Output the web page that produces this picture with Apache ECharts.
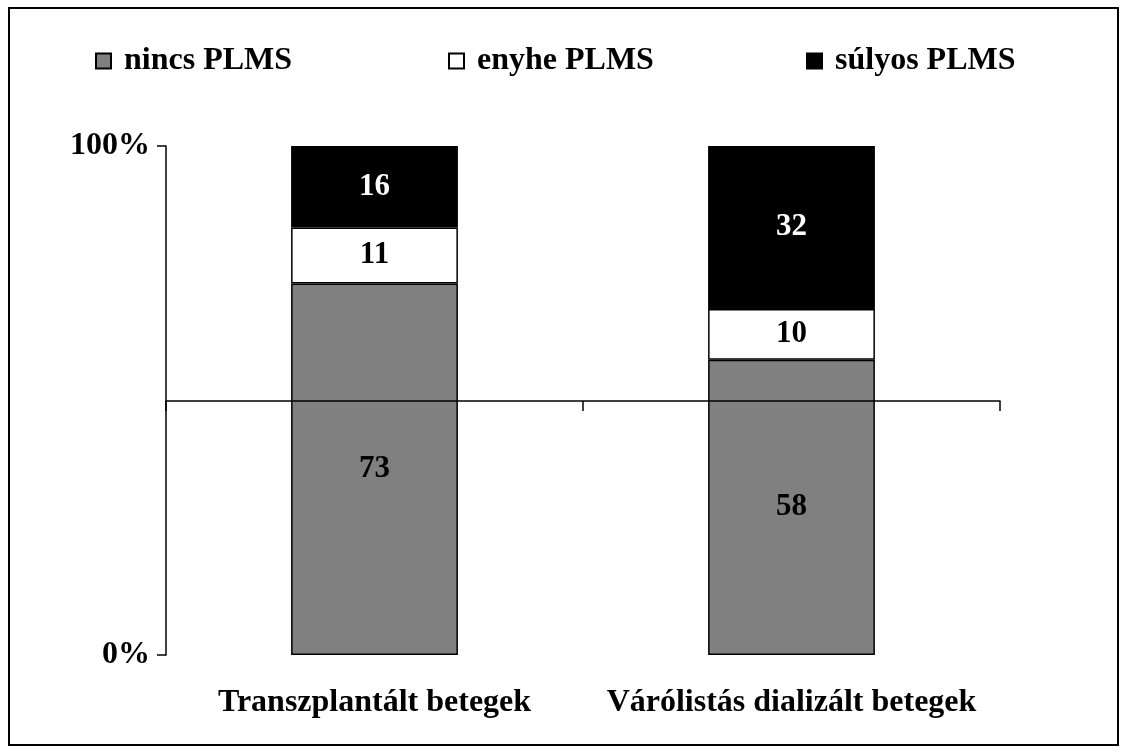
<!DOCTYPE html>
<html>
<head>
<meta charset="utf-8">
<script src="https://cdn.jsdelivr.net/npm/echarts@6/dist/echarts.min.js"></script>
<style>
html,body{margin:0;padding:0;background:#fff;}
#chart{width:1128px;height:754px;}
</style>
</head>
<body>
<div id="chart"></div>
<script>
const categories = ['Transzplantált betegek', 'Várólistás dializált betegek'];
const seriesNames = ['nincs PLMS', 'enyhe PLMS', 'súlyos PLMS'];
const nincs = [73, 58];
const enyhe = [11, 10];
const sulyos = [16, 32];
const yTicks = [0, 100];

const FONT = '"Liberation Serif", "Times New Roman", serif';
const chart = echarts.init(document.getElementById('chart'), null, {renderer: 'canvas'});

function mkSeries(name, data, color, labelColor) {
  return {
    name: name, type: 'bar', stack: 'total', data: data,
    xAxisIndex: 0, yAxisIndex: 0,
    barWidth: '40%',
    itemStyle: {color: color, borderColor: '#000', borderWidth: 1.5},
    label: {show: true, position: 'inside', color: labelColor,
      fontFamily: FONT, fontWeight: 'bold', fontSize: 31},
    emphasis: {disabled: true}
  };
}

function mkLegend(name, left) {
  return {
    data: [name], left: left, top: 40, icon: 'rect',
    itemWidth: 15, itemHeight: 15,
    textStyle: {fontFamily: FONT, fontWeight: 'bold', fontSize: 32, color: '#000', padding: [0, 0, 0, 8]},
    selectedMode: false
  };
}

const option = {
  backgroundColor: '#fff',
  animation: false,
  graphic: [{
    type: 'rect', shape: {x: 9, y: 8, width: 1109, height: 737},
    style: {fill: 'none', stroke: '#000', lineWidth: 2}, silent: true
  }],
  legend: [
    mkLegend(seriesNames[0], 90),
    mkLegend(seriesNames[1], 443),
    mkLegend(seriesNames[2], 801)
  ],
  grid: [
    {left: 166, right: 128, top: 146, bottom: 99},
    {left: 166, right: 128, top: 146, bottom: 353}
  ],
  xAxis: [
    {
      type: 'category', gridIndex: 0, data: categories,
      axisLine: {show: false}, axisTick: {show: false},
      axisLabel: {interval: 0, hideOverlap: false, margin: 32, color: '#000', fontFamily: FONT, fontWeight: 'bold', fontSize: 32}
    },
    {
      type: 'category', gridIndex: 1, data: categories, z: 5,
      axisLine: {show: true, lineStyle: {color: '#000', width: 1.5}},
      axisTick: {show: true, length: 10, lineStyle: {color: '#000', width: 1.5}},
      axisLabel: {show: false}
    }
  ],
  yAxis: [
    {
      type: 'value', gridIndex: 0, min: yTicks[0], max: yTicks[yTicks.length - 1], interval: 100,
      splitLine: {show: false},
      axisLine: {show: true, lineStyle: {color: '#000', width: 1.5}},
      axisTick: {show: true, length: 9, lineStyle: {color: '#000', width: 1.5}},
      axisLabel: {formatter: '{value}%', margin: 16, color: '#000', fontFamily: FONT, fontWeight: 'bold', fontSize: 32}
    },
    {
      type: 'value', gridIndex: 1, show: false, min: 0, max: 1
    }
  ],
  series: [
    mkSeries(seriesNames[0], nincs, '#808080', '#000'),
    mkSeries(seriesNames[1], enyhe, '#ffffff', '#000'),
    mkSeries(seriesNames[2], sulyos, '#000000', '#fff')
  ]
};
chart.setOption(option);
</script>
</body>
</html>
